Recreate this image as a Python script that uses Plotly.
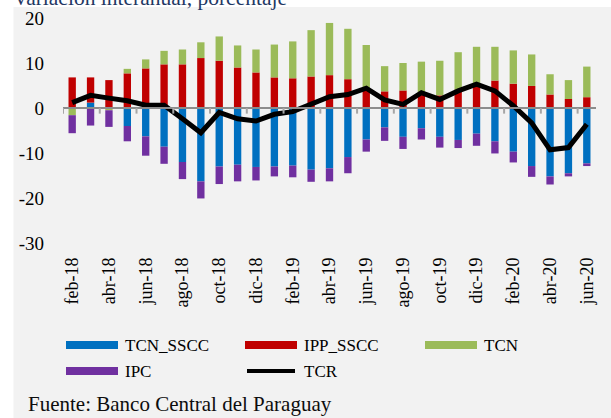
import plotly.graph_objects as go

months = ["feb-18","mar-18","abr-18","may-18","jun-18","jul-18","ago-18","sep-18","oct-18","nov-18","dic-18",
          "ene-19","feb-19","mar-19","abr-19","may-19","jun-19","jul-19","ago-19","sep-19","oct-19","nov-19","dic-19",
          "ene-20","feb-20","mar-20","abr-20","may-20","jun-20"]
tick_labels = [m if i % 2 == 0 else "" for i, m in enumerate(months)]

tcn_sscc = [0, 1.2, 0, -4.0, -6.3, -8.6, -12.0, -16.3, -13.0, -12.6, -13.1,
            -13.0, -12.8, -13.7, -13.4, -10.9, -7.0, -4.3, -6.4, -4.5, -6.4, -7.1, -5.7,
            -7.4, -9.7, -12.9, -15.2, -14.5, -12.3]
ipp_sscc = [6.8, 5.6, 6.2, 7.7, 8.8, 9.7, 9.7, 11.1, 10.5, 9.0, 7.9,
            6.8, 6.6, 7.0, 7.3, 6.4, 4.2, 3.7, 3.9, 3.3, 2.8, 4.1, 4.8,
            6.1, 5.4, 4.9, 3.0, 2.0, 2.4]
tcn = [-1.6, 0, -0.5, 1.0, 2.0, 3.0, 3.3, 3.5, 5.4, 4.9, 5.1,
       7.3, 8.2, 10.3, 11.6, 11.2, 9.8, 5.6, 6.1, 7.0, 7.7, 8.3, 8.8,
       7.5, 7.4, 7.0, 4.5, 4.2, 6.8]
ipc = [-4.0, -3.9, -3.7, -3.4, -4.3, -3.8, -3.8, -3.8, -3.9, -3.7, -3.0,
       -2.2, -2.6, -2.7, -2.9, -3.6, -2.7, -3.0, -2.7, -2.5, -2.4, -1.8, -2.7,
       -2.7, -2.4, -2.4, -1.8, -0.7, -0.6]
tcr = [1.2, 2.8, 2.2, 1.6, 0.6, 0.6, -2.4, -5.5, -1.0, -2.4, -2.9,
       -1.4, -0.8, 1.0, 2.5, 3.0, 4.4, 1.8, 0.8, 3.4, 1.9, 3.8, 5.3,
       3.8, 0.5, -3.3, -9.3, -8.8, -3.6]

series_names = ["TCN_SSCC", "IPP_SSCC", "TCN", "IPC"]
series_vals = [tcn_sscc, ipp_sscc, tcn, ipc]
colors = ["#0070c0", "#c00000", "#9bbb59", "#7030a0"]

W, H = 611, 418
L, R, T, B = 63, 15, 18, 175
PW, PH = W - L - R, H - T - B

def px(x):
    return (x - L) / PW

def py(y):
    return 1 - (y - T) / PH

FONT = "Liberation Serif"
idx = list(range(len(months)))

fig = go.Figure()
for name, vals, c in zip(series_names, series_vals, colors):
    fig.add_trace(go.Bar(x=idx, y=vals, name=name, marker=dict(color=c, line=dict(width=0)),
                         showlegend=False))
fig.add_trace(go.Scatter(x=idx, y=tcr, name="TCR", mode="lines",
                         line=dict(color="black", width=5), showlegend=False))

shapes = []
shapes.append(dict(type="rect", xref="paper", yref="paper", x0=px(13.5), x1=px(W + 5),
                   y0=py(7), y1=py(H + 5), fillcolor="#f2f2f2", line=dict(width=0), layer="below"))
shapes.append(dict(type="line", xref="x", yref="y", x0=-0.5, x1=len(months) - 0.5, y0=0, y1=0,
                   line=dict(color="#8c8c8c", width=2), layer="above"))
for k in range(0, len(months), 2):
    shapes.append(dict(type="line", xref="x", yref="y", x0=k - 0.5, x1=k - 0.5, y0=0, y1=-1.25,
                       line=dict(color="#a6a6a6", width=2), layer="above"))

annotations = []
leg = [("TCN_SSCC", colors[0], 66, 345, "bar"), ("IPP_SSCC", colors[1], 245, 345, "bar"),
       ("TCN", colors[2], 425, 345, "bar"), ("IPC", colors[3], 66, 371, "bar"),
       ("TCR", "black", 245, 371, "line")]
for name, c, x0, yc, kind in leg:
    if kind == "bar":
        shapes.append(dict(type="rect", xref="paper", yref="paper", x0=px(x0), x1=px(x0 + 52),
                           y0=py(yc + 4), y1=py(yc - 4), fillcolor=c, line=dict(width=0)))
    else:
        shapes.append(dict(type="line", xref="paper", yref="paper", x0=px(x0 + 2), x1=px(x0 + 50),
                           y0=py(yc), y1=py(yc), line=dict(color=c, width=4)))
    annotations.append(dict(text=name, xref="paper", yref="paper", x=px(x0 + 57), y=py(yc),
                            xanchor="left", yanchor="middle", showarrow=False,
                            font=dict(family=FONT, size=17, color="black")))

annotations.append(dict(text="Fuente: Banco Central del Paraguay", xref="paper", yref="paper",
                        x=px(26), y=py(404), xanchor="left", yanchor="middle", showarrow=False,
                        font=dict(family=FONT, size=21, color="#0d0d0d")))
annotations.append(dict(text="Variación interanual, porcentaje", xref="paper", yref="paper",
                        x=px(11), y=py(12), xanchor="left", yanchor="bottom", showarrow=False,
                        font=dict(family=FONT, size=21.5, color="#1f3864")))

fig.update_layout(
    width=W, height=H,
    margin=dict(l=L, r=R, t=T, b=B, pad=0, autoexpand=False),
    paper_bgcolor="white", plot_bgcolor="#f2f2f2",
    barmode="relative", bargap=0.6,
    shapes=shapes, annotations=annotations,
    xaxis=dict(range=[-0.5, len(months) - 0.5], tickmode="array", tickvals=idx, ticktext=tick_labels,
               tickangle=-90, showgrid=False, zeroline=False, showline=False, ticks="",
               automargin=False,
               tickfont=dict(family=FONT, size=18, color="black"), ticklabelstandoff=10),
    yaxis=dict(range=[-30, 20], tickmode="array", tickvals=[-30, -20, -10, 0, 10, 20],
               ticktext=["-30", "-20", "-10", "0", "10", "20"], showgrid=False, zeroline=False,
               showline=False, ticks="", ticklabelstandoff=18, automargin=False,
               tickfont=dict(family=FONT, size=19, color="black")),
    showlegend=False,
)

fig.write_html("out.html", config={"displayModeBar": False},
               post_script="document.body.style.margin='0';document.body.style.overflow='hidden';")
